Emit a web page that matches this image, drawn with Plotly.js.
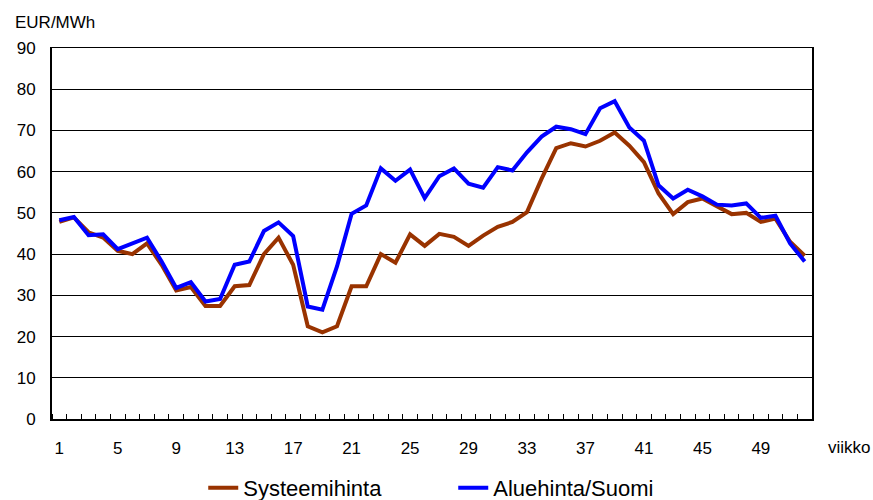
<!DOCTYPE html>
<html>
<head>
<meta charset="utf-8">
<script src="https://cdn.plot.ly/plotly-3.0.1.min.js"></script>
<style>
html,body{margin:0;padding:0;background:#fff;}
#chart{width:873px;height:500px;}
</style>
</head>
<body>
<div id="chart"></div>
<script>
const weeks = [1,2,3,4,5,6,7,8,9,10,11,12,13,14,15,16,17,18,19,20,21,22,23,24,25,26,
               27,28,29,30,31,32,33,34,35,36,37,38,39,40,41,42,43,44,45,46,47,48,49,50,51,52];
const tickWeeks = [1,5,9,13,17,21,25,29,33,37,41,45,49];
const systeemihinta = [47.8,48.9,45.3,44.0,40.8,40.0,42.6,37.4,31.2,32.0,27.4,27.4,32.2,32.5,40.0,44.0,
                       37.4,22.5,21.0,22.5,32.2,32.2,40.0,37.9,44.8,42.0,44.9,44.2,42.0,44.5,46.6,47.8,
                       50.2,58.3,65.7,66.9,66.1,67.5,69.5,66.3,62.3,54.7,49.7,52.6,53.5,51.6,49.7,50.0,
                       47.8,48.6,43.0,39.6];
const aluehintaSuomi = [48.2,49.0,44.6,44.8,41.2,42.6,44.0,38.2,31.8,33.2,28.5,29.1,37.4,38.2,45.6,47.7,
                        44.4,27.3,26.5,37.0,49.8,51.8,60.8,57.8,60.5,53.6,58.9,60.8,57.1,56.1,61.1,60.3,
                        64.7,68.5,70.9,70.3,69.1,75.4,77.1,70.7,67.5,56.7,53.5,55.6,54.0,52.0,51.8,52.3,
                        48.8,49.3,42.6,38.2];
const seriesNames = ['Systeemihinta','Aluehinta/Suomi'];
const unitLabel = 'EUR/MWh';
const xLabel = 'viikko';

const FONT = 'Liberation Sans, Arial, sans-serif';

const data = [
  {x: weeks, y: systeemihinta, name: seriesNames[0], type: 'scatter', mode: 'lines',
   line: {color: '#993300', width: 4}, hoverinfo: 'x+y'},
  {x: weeks, y: aluehintaSuomi, name: seriesNames[1], type: 'scatter', mode: 'lines',
   line: {color: '#0000FF', width: 4}, hoverinfo: 'x+y'}
];

const layout = {
  width: 873, height: 500,
  margin: {l: 52, r: 61, t: 48, b: 81, autoexpand: false},
  paper_bgcolor: '#fff', plot_bgcolor: '#fff',
  font: {family: FONT, size: 17, color: '#000'},
  showlegend: true,
  legend: {orientation: 'h', x: 0.199, xanchor: 'left', y: -0.186, yanchor: 'middle',
           font: {family: FONT, size: 22, color: '#000'},
           entrywidth: 205, entrywidthmode: 'pixels', bgcolor: 'rgba(0,0,0,0)'},
  xaxis: {
    range: [0.5, 52.5], tickmode: 'array', tickvals: tickWeeks,
    ticktext: tickWeeks.map(String), ticks: '', showgrid: false, zeroline: false,
    showline: true, linecolor: '#000', linewidth: 1.5, mirror: true,
    ticklabelstandoff: 13, tickfont: {family: FONT, size: 17},
    minor: {tick0: 0.5, dtick: 1, ticks: 'inside', ticklen: 5, tickcolor: '#000', tickwidth: 1, showgrid: false}
  },
  yaxis: {
    range: [0, 90], dtick: 10, tick0: 0, ticks: '', showgrid: true,
    gridcolor: '#000', gridwidth: 1, zeroline: false,
    showline: true, linecolor: '#000', linewidth: 2, mirror: true,
    ticklabelstandoff: 11, tickfont: {family: FONT, size: 17}
  },
  annotations: [
    {text: unitLabel, xref: 'paper', yref: 'paper', x: -0.0513, y: 1.07,
     xanchor: 'left', yanchor: 'middle', showarrow: false, font: {family: FONT, size: 17}},
    {text: xLabel, xref: 'paper', yref: 'paper', x: 1.018, y: -0.0768,
     xanchor: 'left', yanchor: 'middle', showarrow: false, font: {family: FONT, size: 17}}
  ]
};

Plotly.newPlot('chart', data, layout, {displayModeBar: false, staticPlot: true});
</script>
</body>
</html>
